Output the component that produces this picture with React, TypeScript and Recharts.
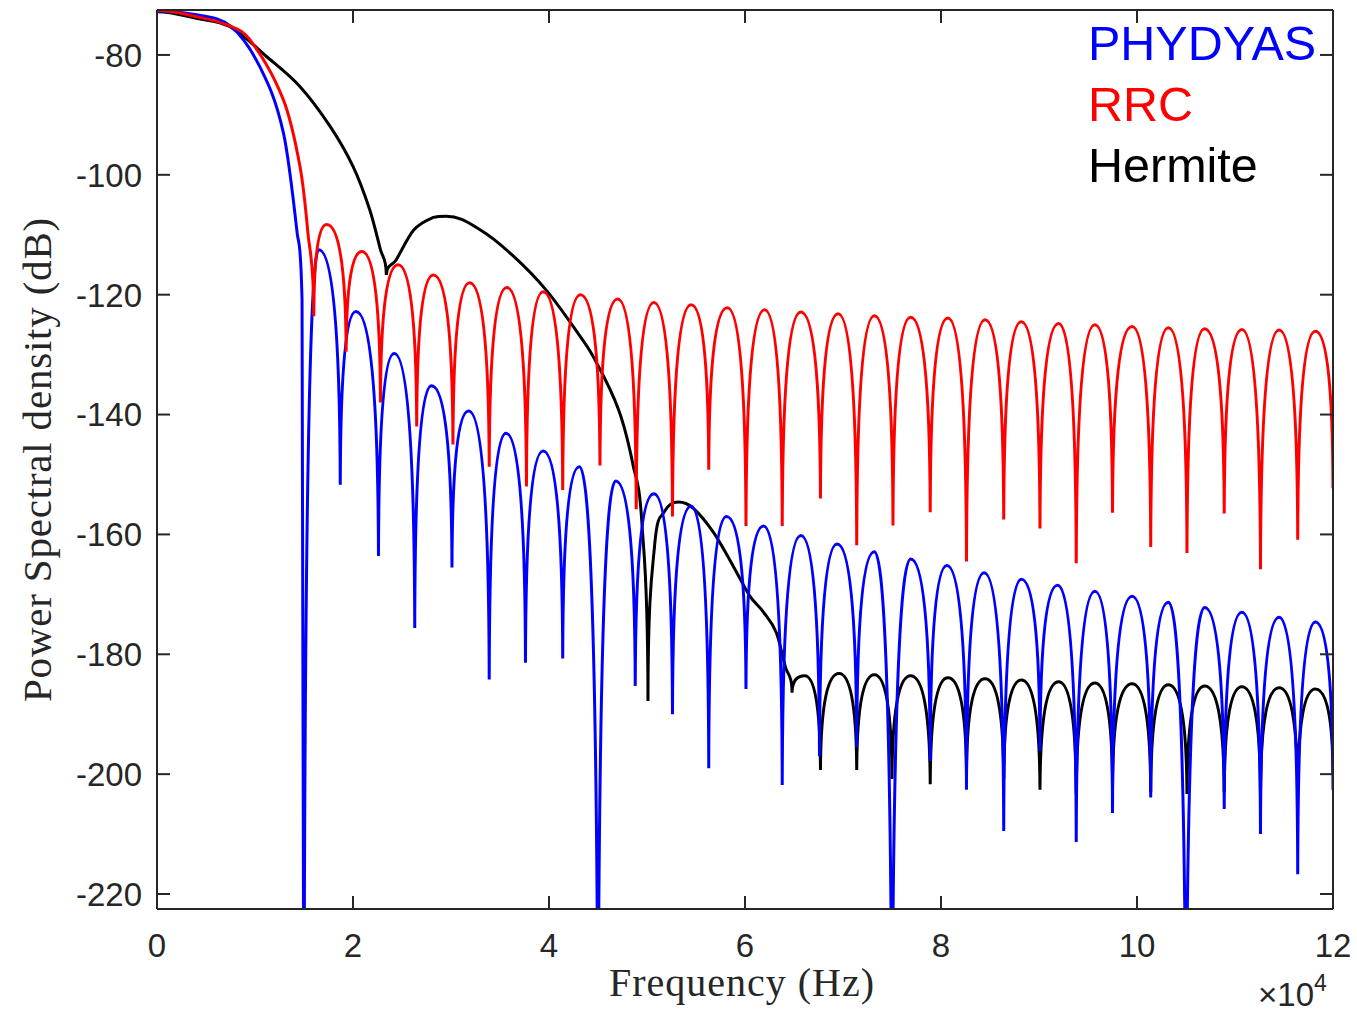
import React from 'react'
import { LineChart, Line, XAxis, YAxis, Legend } from 'recharts'

// frequency in units of 1e4 Hz (axis shows x10^4), PSD in dB
// -260 = null that drops off the bottom of the plot
const xTicks = [0, 2, 4, 6, 8, 10, 12]
const yTicks = [-220, -200, -180, -160, -140, -120, -100, -80]

const phydyas: [number, number][] = [
  [0, -72.7], [0.4, -73.3], [0.75, -75.2], [1.05, -82], [1.29, -93], [1.43, -109.7], [1.48, -120.8], [1.5, -260],
  [1.65, -112.5], [1.87, -151.7], [2.03, -122.8], [2.26, -163.6], [2.42, -129.8], [2.63, -175.6],
  [2.8, -135.2], [3.01, -165.5], [3.18, -139.4], [3.39, -184.2], [3.56, -143.1], [3.76, -181.4],
  [3.94, -146.1], [4.14, -180.7], [4.31, -148.7], [4.5, -260], [4.68, -151.1], [4.88, -185.3],
  [5.07, -153.2], [5.26, -190], [5.45, -155.3], [5.63, -199], [5.81, -157], [6.01, -185.8],
  [6.19, -158.6], [6.38, -201.8], [6.57, -160.2], [6.76, -197], [6.94, -161.6], [7.14, -195.5],
  [7.32, -162.9], [7.5, -260], [7.69, -164.1], [7.89, -197.8], [8.06, -165.2], [8.26, -202.6],
  [8.44, -166.4], [8.64, -209.5], [8.82, -167.5], [9.01, -196.1], [9.19, -168.5], [9.38, -211.3],
  [9.57, -169.5], [9.75, -206.5], [9.95, -170.3], [10.14, -203.9], [10.32, -171.3], [10.5, -260],
  [10.69, -172.2], [10.89, -205.8], [11.07, -173], [11.26, -210], [11.45, -173.8], [11.64, -216.7],
  [11.82, -174.6], [12, -202.6],
]

const rrc: [number, number][] = [
  [0, -72.6], [0.4, -73.6], [0.75, -75.2], [0.95, -77.5], [1.29, -87.5], [1.46, -98.7], [1.54, -109.7], [1.6, -123.6],
  [1.73, -108.3], [1.93, -129.5], [2.09, -112.8], [2.28, -138], [2.46, -115], [2.65, -142],
  [2.82, -116.7], [3.02, -145], [3.19, -118], [3.39, -148.7], [3.57, -118.8], [3.77, -152],
  [3.94, -119.5], [4.14, -152.6], [4.32, -120], [4.52, -148.5], [4.7, -120.7], [4.89, -155.8],
  [5.07, -121.3], [5.26, -157], [5.45, -121.7], [5.63, -149.2], [5.82, -122.2], [6.01, -158.6],
  [6.2, -122.5], [6.38, -158.6], [6.57, -122.9], [6.77, -154], [6.95, -123.2], [7.14, -161.8],
  [7.32, -123.5], [7.51, -158.5], [7.69, -123.75], [7.89, -156.3], [8.07, -123.9], [8.26, -164.5],
  [8.45, -124.2], [8.64, -157.5], [8.82, -124.5], [9.01, -159], [9.2, -124.8], [9.38, -164.8],
  [9.57, -125], [9.75, -156.4], [9.95, -125.3], [10.14, -162.1], [10.32, -125.5], [10.51, -163.1],
  [10.69, -125.7], [10.89, -156.5], [11.07, -125.8], [11.26, -165.8], [11.45, -125.9], [11.64, -160.9],
  [11.82, -126.1], [12, -152.3],
]

const hermite: [number, number][] = [
  [0, -72.8], [0.4, -73.9], [0.745, -75.3], [1.12, -80.3], [1.46, -85.3], [1.77, -92], [2.0, -98.6],
  [2.17, -105.8], [2.28, -112.5], [2.34, -116.7], [2.44, -114.2], [2.62, -109.2], [2.82, -107.1],
  [2.95, -106.9], [3.3, -109.2], [3.64, -113.6], [3.98, -119.4], [4.32, -127], [4.45, -130.3],
  [4.71, -139.2], [4.86, -148.6], [4.95, -158.6], [5.01, -187.8], [5.08, -161.4], [5.17, -156.4],
  [5.32, -154.6], [5.47, -155.6], [5.68, -159.7], [5.88, -165.3], [6.05, -170.3], [6.19, -173],
  [6.32, -176.4], [6.41, -182], [6.48, -186.4], [6.61, -183.6], [6.77, -199.3], [6.96, -183.2],
  [7.14, -199.3], [7.32, -183.4], [7.5, -200.8], [7.69, -183.6], [7.89, -201.7], [8.07, -183.9],
  [8.26, -200.2], [8.45, -184.1], [8.64, -200.8], [8.82, -184.3], [9.01, -202.6], [9.2, -184.6],
  [9.38, -203.2], [9.57, -184.8], [9.75, -202], [9.95, -184.9], [10.14, -203], [10.32, -185.1],
  [10.51, -203.3], [10.69, -185.3], [10.89, -203], [11.07, -185.4], [11.26, -203], [11.45, -185.6],
  [11.64, -203], [11.82, -185.8], [12, -200],
]

const legendOrder = ['PHYDYAS', 'RRC', 'Hermite']
const axisColor = '#262626'
const sans = "'Liberation Sans', Arial, Helvetica, sans-serif"
const serif = "'Liberation Serif', 'Times New Roman', serif"

const rows = (pts: [number, number][]) => pts.map(([f, db]) => ({ f, db }))

// arches between nulls and peaks: flat at maxima, cusp at minima
const lobeCurve = (context: any) => {
  let pts: number[][] = []
  const kind = (i: number) => {
    const p = pts[i], a = pts[i - 1], b = pts[i + 1]
    const upA = !a || p[1] < a[1], upB = !b || p[1] < b[1]
    const dnA = !a || p[1] > a[1], dnB = !b || p[1] > b[1]
    if (upA && upB) return 'peak'
    if (dnA && dnB) return 'null'
    return 'mid'
  }
  const slope = (i: number) => {
    const a = pts[i - 1] || pts[i], b = pts[i + 1] || pts[i]
    return b[0] === a[0] ? 0 : (b[1] - a[1]) / (b[0] - a[0])
  }
  const clamp = (v: number, y0: number, y1: number) =>
    Math.min(Math.max(v, Math.min(y0, y1)), Math.max(y0, y1))
  return {
    areaStart() {},
    areaEnd() {},
    lineStart() { pts = [] },
    point(x: number, y: number) { pts.push([+x, +y]) },
    lineEnd() {
      if (!pts.length) return
      context.moveTo(pts[0][0], pts[0][1])
      for (let i = 0; i < pts.length - 1; i++) {
        const [x0, y0] = pts[i]
        const [x1, y1] = pts[i + 1]
        const dx = x1 - x0, dy = y1 - y0
        const k0 = kind(i), k1 = kind(i + 1)
        let c1x, c1y, c2x, c2y
        if (k0 === 'peak') { c1x = x0 + (k1 === 'null' ? 0.6 : 0.4) * dx; c1y = y0 }
        else if (k0 === 'null') { c1x = x0 + 0.02 * dx; c1y = y0 + 0.7 * dy }
        else { c1x = x0 + dx / 3; c1y = clamp(y0 + slope(i) * dx / 3, y0, y1) }
        if (k1 === 'peak') { c2x = x1 - (k0 === 'null' ? 0.6 : 0.4) * dx; c2y = y1 }
        else if (k1 === 'null') { c2x = x1 - 0.02 * dx; c2y = y1 - 0.7 * dy }
        else { c2x = x1 - dx / 3; c2y = clamp(y1 - slope(i + 1) * dx / 3, y0, y1) }
        context.bezierCurveTo(c1x, c1y, c2x, c2y, x1, y1)
      }
    },
  }
}

function LeftTick({ x, y, payload }: any) {
  return (
    <g>
      <line x1={x} x2={x + 13} y1={y} y2={y} stroke={axisColor} strokeWidth={2} />
      <text x={x - 15} y={y} dy="0.36em" textAnchor="end" fontFamily={sans} fontSize={33} fill={axisColor}>
        {payload.value}
      </text>
    </g>
  )
}

function RightTick({ x, y }: any) {
  return <line x1={x - 13} x2={x} y1={y} y2={y} stroke={axisColor} strokeWidth={2} />
}

function BottomTick({ x, y, payload }: any) {
  return (
    <g>
      <line x1={x} x2={x} y1={y - 13} y2={y} stroke={axisColor} strokeWidth={2} />
      <text x={x} y={y + 48} textAnchor="middle" fontFamily={sans} fontSize={33} fill={axisColor}>
        {payload.value}
      </text>
    </g>
  )
}

function TopTick({ x, y }: any) {
  return <line x1={x} x2={x} y1={y} y2={y + 13} stroke={axisColor} strokeWidth={2} />
}

function XTitle({ viewBox }: any) {
  const { x, y, width } = viewBox
  return (
    <g>
      <text x={x + width / 2 - 3} y={y + 87} textAnchor="middle" fontFamily={serif} fontSize={40}
        letterSpacing={1} fill={axisColor}>
        Frequency (Hz)
      </text>
      <text x={x + width - 19} y={y + 97} textAnchor="end" fontFamily={sans} fontSize={33} fill={axisColor}>
        {'\u00d7'}10
      </text>
      <text x={x + width - 19} y={y + 82} fontFamily={sans} fontSize={23} fill={axisColor}>4</text>
    </g>
  )
}

function YTitle({ viewBox }: any) {
  const { y, height } = viewBox
  const cy = y + height / 2
  return (
    <text x={51} y={cy} transform={`rotate(-90, 51, ${cy})`} textAnchor="middle" fontFamily={serif}
      fontSize={41} letterSpacing={0.8} fill={axisColor}>
      Power Spectral density (dB)
    </text>
  )
}

function LegendBox({ payload }: any) {
  const items = [...(payload || [])].sort(
    (a: any, b: any) => legendOrder.indexOf(a.value) - legendOrder.indexOf(b.value),
  )
  return (
    <div style={{ fontFamily: sans, fontSize: 48.5, lineHeight: '61px' }}>
      {items.map((it: any) => (
        <div key={it.value} style={{ color: it.color, whiteSpace: 'nowrap' }}>{it.value}</div>
      ))}
    </div>
  )
}

export default function App() {
  return (
    <div style={{ position: 'absolute', left: 0, top: 0, background: '#fff' }}>
      <LineChart width={1357} height={1013} margin={{ top: 9, right: 23, bottom: 0, left: 0 }}>
        <XAxis
          dataKey="f" type="number" domain={[0, 12]} ticks={xTicks} allowDataOverflow
          height={104} tickSize={0} tickMargin={0} tickLine={false} tick={<BottomTick />}
          axisLine={{ stroke: axisColor, strokeWidth: 2 }} label={{ content: <XTitle /> }}
        />
        <XAxis
          xAxisId="top" orientation="top" dataKey="f" type="number" domain={[0, 12]} ticks={xTicks}
          allowDataOverflow height={1} tickSize={0} tickMargin={0} tickLine={false} tick={<TopTick />}
          axisLine={{ stroke: axisColor, strokeWidth: 2 }}
        />
        <YAxis
          type="number" domain={[-222.5, -72.5]} ticks={yTicks} allowDataOverflow width={157}
          tickSize={0} tickMargin={0} tickLine={false} tick={<LeftTick />}
          axisLine={{ stroke: axisColor, strokeWidth: 2 }} label={{ content: <YTitle /> }}
        />
        <YAxis
          yAxisId="right" orientation="right" type="number" domain={[-222.5, -72.5]} ticks={yTicks}
          allowDataOverflow width={1} tickSize={0} tickMargin={0} tickLine={false} tick={<RightTick />}
          axisLine={{ stroke: axisColor, strokeWidth: 2 }}
        />
        <Legend
          layout="vertical" align="center" verticalAlign="middle" content={<LegendBox />}
          wrapperStyle={{ position: 'absolute', left: 1088, top: 13, width: 265 }}
        />
        <Line data={rows(hermite)} dataKey="db" name="Hermite" stroke="#000000" strokeWidth={3}
          dot={false} activeDot={false} type={lobeCurve as any} isAnimationActive={false} />
        <Line data={rows(phydyas)} dataKey="db" name="PHYDYAS" stroke="#0000ff" strokeWidth={3}
          dot={false} activeDot={false} type={lobeCurve as any} isAnimationActive={false} />
        <Line data={rows(rrc)} dataKey="db" name="RRC" stroke="#ff0000" strokeWidth={3}
          dot={false} activeDot={false} type={lobeCurve as any} isAnimationActive={false} />
      </LineChart>
    </div>
  )
}
